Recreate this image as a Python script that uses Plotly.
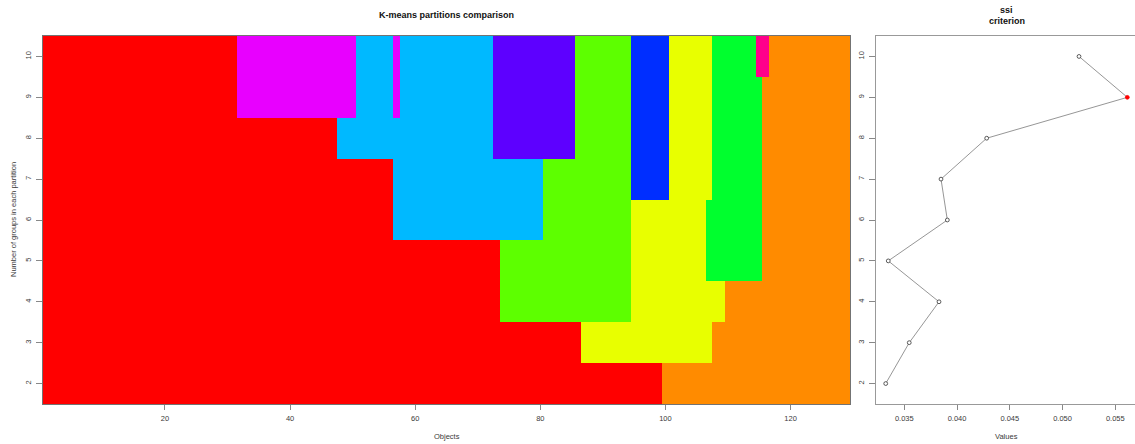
import plotly.graph_objects as go
import numpy as np

W, H = 1135, 444
N_OBJECTS = 129
GROUPS = [2, 3, 4, 5, 6, 7, 8, 9, 10]

# R rainbow(11) palette
PALETTE = ["#FF0000", "#FF8B00", "#E8FF00", "#5DFF00", "#00FF2E", "#00FFB9",
           "#00B9FF", "#002EFF", "#5D00FF", "#E800FF", "#FF008B"]

# Partitions, run-length encoded along the ordered objects: colour index / run length
k2_col = [0, 1]
k2_len = [99, 30]
k3_col = [0, 2, 1]
k3_len = [86, 21, 22]
k4_col = [0, 3, 2, 1]
k4_len = [73, 21, 15, 20]
k5_col = [0, 3, 2, 4, 1]
k5_len = [73, 21, 12, 9, 14]
k6_col = [0, 6, 3, 2, 4, 1]
k6_len = [56, 24, 14, 12, 9, 14]
k7_col = [0, 6, 3, 7, 2, 4, 1]
k7_len = [56, 24, 14, 6, 7, 8, 14]
k8_col = [0, 6, 8, 3, 7, 2, 4, 1]
k8_len = [47, 25, 13, 9, 6, 7, 8, 14]
k9_col = [0, 9, 6, 9, 6, 8, 3, 7, 2, 4, 1]
k9_len = [31, 19, 6, 1, 15, 13, 9, 6, 7, 8, 14]
k10_col = [0, 9, 6, 9, 6, 8, 3, 7, 2, 4, 10, 1]
k10_len = [31, 19, 6, 1, 15, 13, 9, 6, 7, 7, 2, 13]

# ssi criterion values per number of groups
ssi_groups = [2, 3, 4, 5, 6, 7, 8, 9, 10]
ssi_values = [0.03324, 0.03547, 0.03829, 0.03348, 0.03908, 0.03848, 0.04281, 0.05614, 0.05156]

runs = [(k2_col, k2_len), (k3_col, k3_len), (k4_col, k4_len), (k5_col, k5_len),
        (k6_col, k6_len), (k7_col, k7_len), (k8_col, k8_len), (k9_col, k9_len),
        (k10_col, k10_len)]
z = [np.repeat(c, l).tolist() for c, l in runs]
objects = list(range(1, N_OBJECTS + 1))

ncol = len(PALETTE)
colorscale = []
for i, c in enumerate(PALETTE):
    colorscale.append([i / ncol, c])
    colorscale.append([(i + 1) / ncol, c])

FONT = "Liberation Sans, Arial, sans-serif"
TXT = "#3a3a3a"

fig = go.Figure()
fig.add_trace(go.Heatmap(
    x=objects, y=GROUPS, z=z, colorscale=colorscale, zmin=-0.5, zmax=ncol - 0.5,
    showscale=False, xaxis="x", yaxis="y", hoverinfo="skip"))

imax = int(np.argmax(ssi_values))
mcolors = ["red" if i == imax else "white" for i in range(len(ssi_values))]
mline = ["red" if i == imax else "#333333" for i in range(len(ssi_values))]
fig.add_trace(go.Scatter(
    x=ssi_values, y=ssi_groups, mode="lines+markers", xaxis="x2", yaxis="y2",
    line=dict(color="#8a8a8a", width=0.9),
    marker=dict(symbol="circle", size=3.8, color=mcolors, line=dict(color=mline, width=0.8)),
    showlegend=False))

def px(x):
    return x / W

def py(y):
    return 1 - y / H

ydom = [py(404), py(36)]
tickfont = dict(family=FONT, size=7.5, color=TXT)

fig.update_layout(
    width=W, height=H, margin=dict(l=0, r=0, t=0, b=0),
    paper_bgcolor="white", plot_bgcolor="white", showlegend=False,
    font=dict(family=FONT, color=TXT),
    xaxis=dict(domain=[px(43), px(850)], range=[0.5, N_OBJECTS + 0.5],
               tickvals=[20, 40, 60, 80, 100, 120], ticks="outside", ticklen=5,
               tickcolor="#888888", tickfont=tickfont, showgrid=False, zeroline=False,
               showline=True, mirror=True, linecolor="rgba(0,0,0,0.55)", linewidth=1,
               ticklabelstandoff=2),
    yaxis=dict(domain=ydom, range=[1.5, 10.5], tickvals=GROUPS, ticks="outside",
               ticklen=6, tickcolor="#888888", tickfont=tickfont, tickangle=-90,
               showgrid=False, zeroline=False, showline=True, mirror=True,
               linecolor="rgba(0,0,0,0.55)", linewidth=1, ticklabelstandoff=2),
    xaxis2=dict(domain=[px(876), 1.0], range=[0.032318, 0.056867], anchor="y2",
                tickvals=[0.035, 0.040, 0.045, 0.050, 0.055],
                ticktext=["0.035", "0.040", "0.045", "0.050", "0.055"],
                ticks="outside", ticklen=5, tickcolor="#888888", tickfont=tickfont,
                showgrid=False, zeroline=False, showline=True, mirror=True,
                linecolor="#999999", linewidth=1, ticklabelstandoff=2),
    yaxis2=dict(domain=ydom, range=[1.5, 10.5], anchor="x2", tickvals=GROUPS,
                ticks="outside", ticklen=6, tickcolor="#888888", tickfont=tickfont,
                tickangle=-90, showgrid=False, zeroline=False, showline=True,
                linecolor="#999999", linewidth=1, ticklabelstandoff=2),
)

ann = [
    dict(x=px(446.5), y=py(15), text="<b>K-means partitions comparison</b>",
         font=dict(family=FONT, size=9, color="#111111")),
    dict(x=px(1006.5), y=py(10), text="<b>ssi</b>", font=dict(family=FONT, size=9, color="#111111")),
    dict(x=px(1006.5), y=py(20.5), text="<b>criterion</b>", font=dict(family=FONT, size=9, color="#111111")),
    dict(x=px(446.5), y=py(436), text="Objects", font=dict(family=FONT, size=7.5, color=TXT)),
    dict(x=px(1006.5), y=py(436), text="Values", font=dict(family=FONT, size=7.5, color=TXT)),
    dict(x=px(13), y=py(220), text="Number of groups in each partition", textangle=-90,
         font=dict(family=FONT, size=7.5, color=TXT)),
]
for a in ann:
    a.update(xref="paper", yref="paper", showarrow=False, xanchor="center", yanchor="middle")
fig.update_layout(annotations=ann)

fig.write_html("out.html")
